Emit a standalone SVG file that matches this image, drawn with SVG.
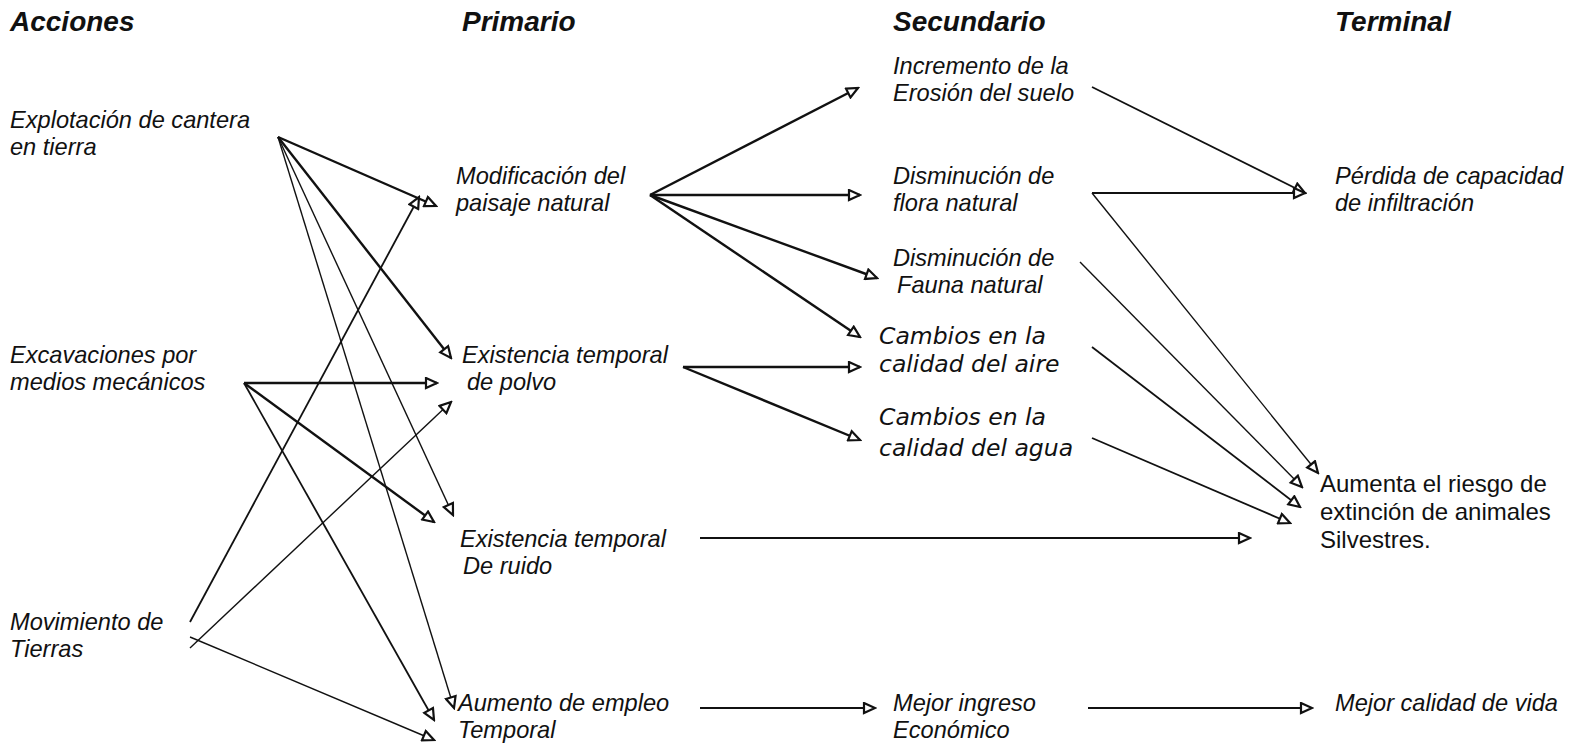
<svg xmlns="http://www.w3.org/2000/svg" width="1572" height="748" viewBox="0 0 1572 748">
<style>
text{font-family:"Liberation Sans",Arial,sans-serif;font-style:italic;font-size:23.6px;fill:#111}
.h{font-weight:bold;font-size:28px}
.g{font-family:"DejaVu Sans",sans-serif;font-size:23.5px}
.n{font-style:normal;font-size:24px}
line{stroke:#111;fill:none;marker-end:url(#ah)}
.t{stroke-width:2.4}
.m{stroke-width:1.8}
.s{stroke-width:1.4}
</style>
<defs>
<marker id="ah" markerUnits="userSpaceOnUse" markerWidth="15" markerHeight="13" refX="12" refY="5.5" orient="auto" viewBox="-1 -1 15 13">
<path d="M1,0.5 L12,5.5 L1,10.5 Z" fill="#fff" stroke="#111" stroke-width="2.2"/>
</marker>
</defs>
<rect width="1572" height="748" fill="#fff"/>
<g id="headers">
<text class="h" x="10" y="31">Acciones</text>
<text class="h" x="462" y="31">Primario</text>
<text class="h" x="893" y="31">Secundario</text>
<text class="h" x="1335" y="31">Terminal</text>
</g>
<g id="n-explotacion"><text x="10" y="128">Explotación de cantera</text><text x="10" y="155">en tierra</text></g>
<g id="n-excavaciones"><text x="10" y="363">Excavaciones por</text><text x="10" y="390">medios mecánicos</text></g>
<g id="n-movimiento"><text x="10" y="630">Movimiento de</text><text x="10" y="657">Tierras</text></g>
<g id="n-modificacion"><text x="456" y="184">Modificación del</text><text x="456" y="211">paisaje natural</text></g>
<g id="n-polvo"><text x="462" y="363">Existencia temporal</text><text x="467" y="390">de polvo</text></g>
<g id="n-ruido"><text x="460" y="547">Existencia temporal</text><text x="463" y="574">De ruido</text></g>
<g id="n-empleo"><text x="458" y="711">Aumento de empleo</text><text x="458" y="738">Temporal</text></g>
<g id="n-erosion"><text x="893" y="74">Incremento de la</text><text x="893" y="101">Erosión del suelo</text></g>
<g id="n-flora"><text x="893" y="184">Disminución de</text><text x="893" y="211">flora natural</text></g>
<g id="n-fauna"><text x="893" y="266">Disminución de</text><text x="897" y="293">Fauna natural</text></g>
<g id="n-aire"><text class="g" x="879" y="344">Cambios en la</text><text class="g" x="879" y="372">calidad del aire</text></g>
<g id="n-agua"><text class="g" x="879" y="425">Cambios en la</text><text class="g" x="879" y="456">calidad del agua</text></g>
<g id="n-ingreso"><text x="893" y="711">Mejor ingreso</text><text x="893" y="738">Económico</text></g>
<g id="n-perdida"><text x="1335" y="184">Pérdida de capacidad</text><text x="1335" y="211">de infiltración</text></g>
<g id="n-riesgo"><text class="n" x="1320" y="492">Aumenta el riesgo de</text><text class="n" x="1320" y="520">extinción de animales</text><text class="n" x="1320" y="548">Silvestres.</text></g>
<g id="n-vida"><text x="1335" y="711">Mejor calidad de vida</text></g>
<g id="connectors">
<line class="t" x1="278" y1="137" x2="436" y2="206"/>
<line class="t" x1="278" y1="137" x2="451" y2="358"/>
<line class="s" x1="278" y1="137" x2="453" y2="515"/>
<line class="s" x1="278" y1="137" x2="454" y2="708"/>
<line class="t" x1="244" y1="383" x2="437" y2="383"/>
<line class="t" x1="244" y1="383" x2="434" y2="522"/>
<line class="m" x1="244" y1="383" x2="434" y2="720"/>
<line class="m" x1="190" y1="622" x2="419" y2="197"/>
<line class="s" x1="190" y1="648" x2="451" y2="402"/>
<line class="s" x1="190" y1="637" x2="434" y2="740"/>
<line class="t" x1="650" y1="195" x2="858" y2="88"/>
<line class="t" x1="650" y1="195" x2="860" y2="195"/>
<line class="t" x1="650" y1="195" x2="877" y2="278"/>
<line class="t" x1="650" y1="195" x2="860" y2="337"/>
<line class="t" x1="683" y1="367" x2="860" y2="367"/>
<line class="t" x1="683" y1="367" x2="860" y2="440"/>
<line class="m" x1="700" y1="538" x2="1250" y2="538"/>
<line class="m" x1="700" y1="708" x2="875" y2="708"/>
<line class="m" x1="1088" y1="708" x2="1312" y2="708"/>
<line class="m" x1="1092" y1="87" x2="1305" y2="193"/>
<line class="m" x1="1092" y1="193" x2="1305" y2="193"/>
<line class="s" x1="1092" y1="193" x2="1318" y2="473"/>
<line class="s" x1="1080" y1="262" x2="1302" y2="487"/>
<line class="m" x1="1092" y1="347" x2="1300" y2="507"/>
<line class="m" x1="1092" y1="438" x2="1290" y2="523"/>
</g>
</svg>
